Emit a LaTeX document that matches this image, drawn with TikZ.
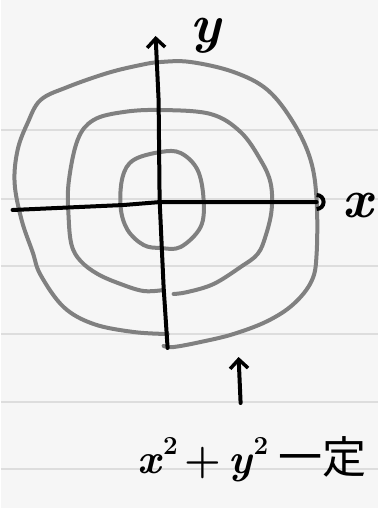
\documentclass[tikz,border=0pt]{standalone}
\usepackage{fontspec}
\usepackage{tikz}
\usetikzlibrary{arrows.meta}
\newfontfamily\cjk{Noto Sans CJK JP}
\definecolor{paper}{RGB}{246,246,246}
\definecolor{ruling}{RGB}{221,221,221}
\definecolor{ringgray}{RGB}{128,128,128}
\newcommand{\sq}{\raisebox{0.45em}{\fontsize{26}{28}\selectfont 2}}

\begin{document}
\begin{tikzpicture}[x=1pt, y=-1pt,
  axis/.style={draw=black, line width=4pt, line cap=round, line join=round},
  ring/.style={draw=ringgray, line width=4pt, line cap=round},
  rule/.style={draw=ruling, line width=1.2pt},
  pointer/.style={axis, -{Straight Barb[length=9pt, width=18pt, line width=3.5pt]}},
  lbl/.style={inner sep=0pt, font=\fontsize{54}{60}\selectfont\bfseries\itshape},
  eqn/.style={inner sep=0pt, font=\fontsize{42}{48}\selectfont\bfseries}]
\fill[paper] (0,0) rectangle (377,508);
\foreach \ry in {130,199,266,334,402,469}
  \draw[rule] (0,\ry) -- (377,\ry);
% rings
\draw[ring] plot[smooth cycle, tension=0.6] coordinates {(160,152) (180,153) (197,170) (203,200)
  (200,227) (180,247) (160,248) (143,245) (127,230) (120,207) (122,177) (133,160)};
\draw[ring] plot[smooth, tension=0.6] coordinates {(173,294) (187,292) (213,284) (240,267) (257,254)
  (265,236) (271,210) (270,183) (260,160) (240,132) (210,114) (160,110) (123,112) (93,120) (77,140)
  (68,183) (68,217) (71,245) (80,261) (97,274) (120,284) (143,291) (163,290)};
\draw[ring] plot[smooth, tension=0.6] coordinates {(163,346) (173,347) (200,342) (233,334) (267,321)
  (293,304) (311,281) (316,254) (316,200) (310,160) (293,123) (267,90) (233,72) (190,62) (160,62)
  (140,65) (107,73) (67,87) (40,100) (27,123) (17,150) (14,183) (21,220) (32,252) (40,275)
  (63,307) (93,324) (133,332) (167,334)};
% axes
\coordinate (xleft) at (12,210);
\coordinate (xright) at (316,202);
\coordinate (ybot) at (167,348);
\coordinate (ytop) at (155,36);
\draw[axis] (xleft) -- (123,205) -- (160,202) -- (xright);
\draw[black, line width=4pt] (316,195) arc[start angle=90, end angle=-90, radius=7pt];
\draw[pointer] (ybot) -- (163,287) -- (159,200) -- (158,100) -- (ytop);
\node[lbl] (xlab) at (357,206) {x};
\node[lbl] (ylab) at (205,36) {y};
% equation
\node[eqn, anchor=base west] (eq) at (137,473)
  {\textit{x}\sq\,+\,\textit{y}\sq\hspace{10pt}{\cjk\mdseries\fontsize{44}{48}\selectfont 一定}};
\coordinate (arrbot) at (240,403);
\coordinate (arrtop) at (238,357);
\draw[pointer] (arrbot) -- (arrtop);
\end{tikzpicture}
\end{document}
